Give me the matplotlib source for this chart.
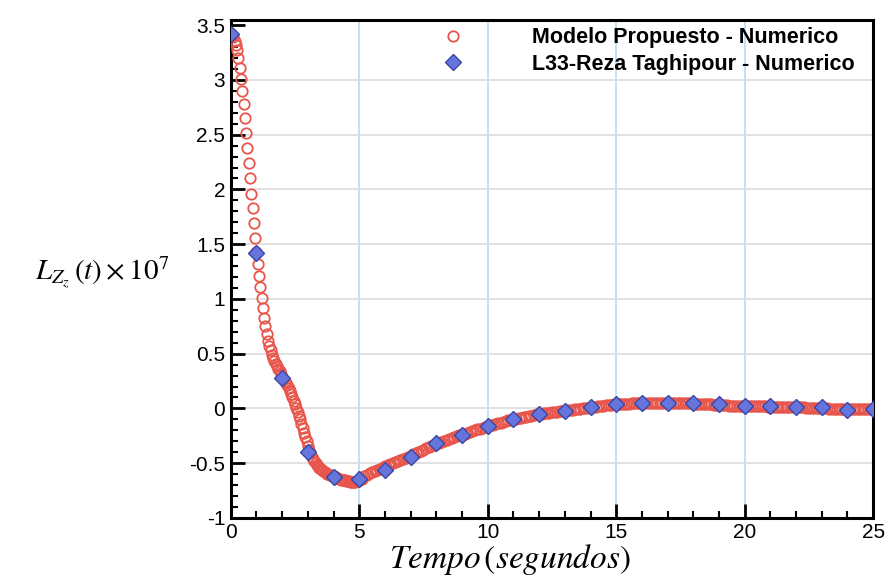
import numpy as np
import matplotlib
matplotlib.use("Agg")
import matplotlib.pyplot as plt
from matplotlib.ticker import MultipleLocator

# -------------------------------
# data
# -------------------------------
# Modelo Propuesto: 0 - 4.95 s every 0.05 s, then 5 - 25 s every 0.1 s
t_red_a = np.round(np.arange(0.0, 4.99, 0.05), 2)
y_red_a = [
    3.42, 3.41, 3.39, 3.36, 3.32, 3.27, 3.20, 3.11, 3.01, 2.90,      # 0.0
    2.78, 2.65, 2.52, 2.38, 2.24, 2.10, 1.96, 1.83, 1.69, 1.56,      # 0.5
    1.43, 1.32, 1.21, 1.11, 1.01, 0.92, 0.83, 0.75, 0.68, 0.62,      # 1.0
    0.57, 0.53, 0.49, 0.46, 0.43, 0.41, 0.39, 0.36, 0.34, 0.31,      # 1.5
    0.29, 0.27, 0.25, 0.23, 0.21, 0.185, 0.16, 0.13, 0.10, 0.07,     # 2.0
    0.04, 0.005, -0.03, -0.065, -0.10, -0.14, -0.18, -0.22, -0.26, -0.30,  # 2.5
    -0.34, -0.38, -0.41, -0.44, -0.46, -0.48, -0.50, -0.515, -0.53, -0.54,  # 3.0
    -0.55, -0.56, -0.57, -0.58, -0.59, -0.595, -0.60, -0.605, -0.61, -0.615,  # 3.5
    -0.62, -0.625, -0.63, -0.635, -0.64, -0.645, -0.65, -0.652, -0.655, -0.658,  # 4.0
    -0.66, -0.663, -0.665, -0.668, -0.67, -0.67, -0.67, -0.668, -0.665, -0.66,  # 4.5
]
t_red_b = np.round(np.arange(5.0, 25.05, 0.1), 1)
y_red_b = [
    -0.655, -0.64, -0.62, -0.605, -0.59, -0.58, -0.57, -0.56, -0.55, -0.54,  # 5.0
    -0.53, -0.52, -0.51, -0.50, -0.49, -0.48, -0.47, -0.46, -0.45, -0.44,  # 6.0
    -0.43, -0.42, -0.41, -0.40, -0.39, -0.38, -0.365, -0.355, -0.345, -0.335,  # 7.0
    -0.325, -0.315, -0.305, -0.295, -0.29, -0.28, -0.27, -0.26, -0.255, -0.245,  # 8.0
    -0.24, -0.23, -0.22, -0.215, -0.205, -0.20, -0.19, -0.185, -0.175, -0.17,  # 9.0
    -0.16, -0.155, -0.15, -0.14, -0.135, -0.13, -0.125, -0.115, -0.11, -0.105,  # 10.0
    -0.10, -0.095, -0.09, -0.085, -0.08, -0.075, -0.07, -0.065, -0.06, -0.055,  # 11.0
    -0.05, -0.047, -0.044, -0.041, -0.038, -0.035, -0.032, -0.029, -0.026, -0.023,  # 12.0
    -0.02, -0.017, -0.014, -0.011, -0.008, -0.005, -0.002, 0.001, 0.004, 0.007,  # 13.0
    0.01, 0.013, 0.016, 0.019, 0.022, 0.025, 0.028, 0.031, 0.034, 0.037,  # 14.0
    0.04, 0.041, 0.042, 0.043, 0.044, 0.045, 0.046, 0.047, 0.048, 0.048,  # 15.0
    0.049, 0.049, 0.05, 0.05, 0.05, 0.05, 0.05, 0.05, 0.05, 0.05,  # 16.0
    0.05, 0.05, 0.05, 0.05, 0.05, 0.049, 0.049, 0.048, 0.048, 0.047,  # 17.0
    0.046, 0.045, 0.044, 0.043, 0.042, 0.04, 0.038, 0.036, 0.034, 0.032,  # 18.0
    0.03, 0.029, 0.028, 0.027, 0.026, 0.025, 0.024, 0.023, 0.022, 0.021,  # 19.0
    0.02, 0.02, 0.02, 0.02, 0.02, 0.019, 0.019, 0.018, 0.018, 0.017,  # 20.0
    0.017, 0.016, 0.016, 0.015, 0.015, 0.014, 0.014, 0.013, 0.013, 0.012,  # 21.0
    0.012, 0.011, 0.01, 0.009, 0.008, 0.007, 0.006, 0.005, 0.004, 0.003,  # 22.0
    0.002, 0.001, 0.0, -0.001, -0.002, -0.003, -0.004, -0.005, -0.006, -0.007,  # 23.0
    -0.008, -0.008, -0.008, -0.008, -0.007, -0.007, -0.006, -0.006, -0.005, -0.005,  # 24.0
    -0.005,  # 25.0
]
t_red = np.concatenate([t_red_a, t_red_b])
y_red = np.array(y_red_a + y_red_b)

# L33-Reza Taghipour: one point per second
t_blue = list(range(0, 26))
y_blue = [3.42, 1.42, 0.28, -0.40, -0.63, -0.64, -0.56, -0.44, -0.32, -0.24,
          -0.16, -0.10, -0.05, -0.02, 0.01, 0.04, 0.05, 0.05, 0.05, 0.04,
          0.02, 0.02, 0.015, 0.01, -0.01, -0.005]

label_red = "Modelo Propuesto - Numerico"
label_blue = "L33-Reza Taghipour - Numerico"

# -------------------------------
# figure
# -------------------------------
plt.rcParams["mathtext.fontset"] = "stix"
fig = plt.figure(figsize=(8.91, 5.80), dpi=100)
ax = fig.add_axes([0.259, 0.107, 0.721, 0.859])

ax.plot(t_red, y_red, linestyle="none", marker="o", ms=7.5, mfc="none",
        mec="#e8554a", mew=1.3, label=label_red, zorder=3)
ax.plot(t_blue, y_blue, linestyle="none", marker="D", ms=8.5, mfc="#6575dc",
        mec="#3a46a8", mew=1.0, label=label_blue, zorder=4)

ax.set_xlim(0, 25)
ax.set_ylim(-1, 3.55)
ax.xaxis.set_major_locator(MultipleLocator(5))
ax.xaxis.set_minor_locator(MultipleLocator(1))
ax.yaxis.set_minor_locator(MultipleLocator(0.1))
ax.set_yticks([-1, -0.5, 0, 0.5, 1, 1.5, 2, 2.5, 3, 3.5])
ax.set_yticklabels(["-1", "-0.5", "0", "0.5", "1", "1.5", "2", "2.5", "3", "3.5"])

ax.tick_params(which="both", direction="in", top=False, right=False,
               labelsize=15, width=2, colors="black")
ax.tick_params(which="major", length=10, pad=4)
ax.tick_params(which="minor", length=5, width=1.5)
for lab in ax.get_xticklabels() + ax.get_yticklabels():
    lab.set_family("Liberation Sans")

for s in ax.spines.values():
    s.set_linewidth(2.2)
    s.set_color("black")

for xv in [5, 10, 15, 20]:
    ax.axvline(xv, color="#b9dcf2", lw=1.2, zorder=1)
for yv in [-0.5, 0, 0.5, 1, 1.5, 2, 2.5, 3]:
    ax.axhline(yv, color="#dcdcdc", lw=1.2, zorder=1)

ax.legend(loc="upper right", bbox_to_anchor=(0.995, 1.015), frameon=False,
          handlelength=1.0, handletextpad=3.2, borderpad=0.2,
          labelspacing=0.25, prop={"family": "Liberation Sans",
                                   "weight": "bold", "size": 15.5})

fig.text(0.572, 0.036, r"$\mathit{Tempo}\,(\mathit{segundos})$",
         ha="center", va="center", fontsize=24)
fig.text(0.115, 0.53, r"$L_{Z_z}\,(t)\times 10^7$",
         ha="center", va="center", fontsize=21)

fig.savefig("out.png", dpi=100)
